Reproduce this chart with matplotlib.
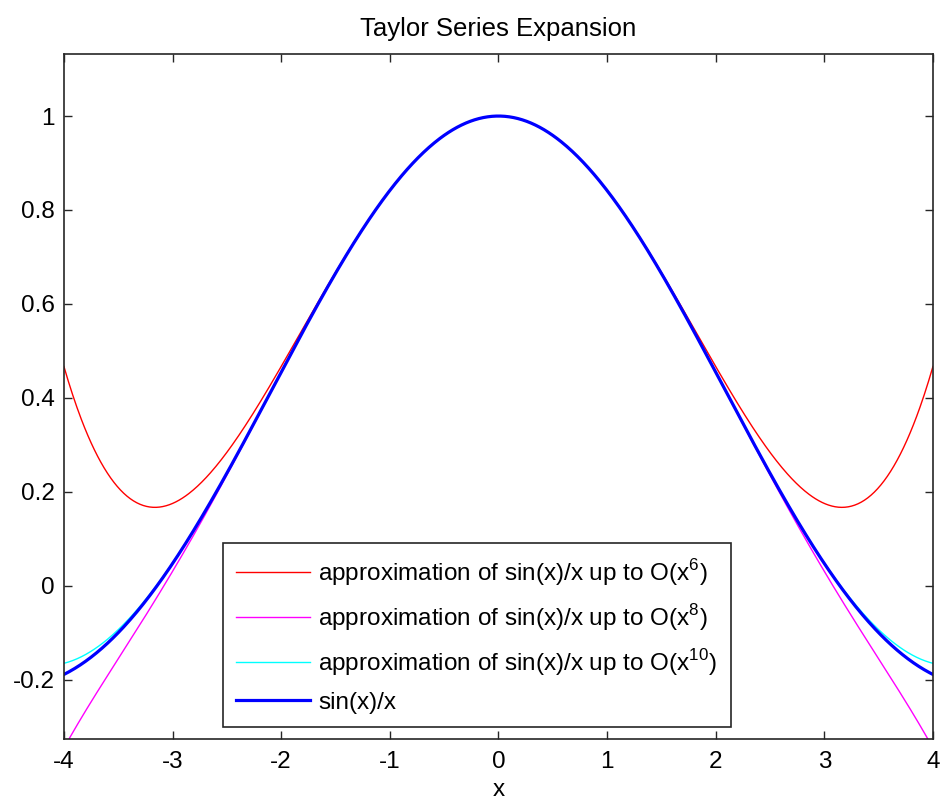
import numpy as np
import matplotlib
matplotlib.use("Agg")
import matplotlib.pyplot as plt

plt.rcParams['font.family'] = ['Liberation Sans', 'DejaVu Sans']
plt.rcParams['mathtext.fontset'] = 'custom'
plt.rcParams['mathtext.rm'] = 'Liberation Sans'

# Taylor coefficients of sin(x)/x for powers x^0, x^2, x^4, ...
taylor_coeffs = [1.0, -1/6, 1/120, -1/5040, 1/362880]
# number of terms kept for each approximation
orders = [3, 4, 5]
approx_labels = [
    r'approximation of sin(x)/x up to O(x$^{\mathrm{6}}$)',
    r'approximation of sin(x)/x up to O(x$^{\mathrm{8}}$)',
    r'approximation of sin(x)/x up to O(x$^{\mathrm{10}}$)',
]
approx_colors = ['#ff0000', '#ff00ff', '#00ffff']
exact_label = 'sin(x)/x'
x_ticks = [-4, -3, -2, -1, 0, 1, 2, 3, 4]
y_ticks = [-0.2, 0, 0.2, 0.4, 0.6, 0.8, 1]

x = np.linspace(-4, 4, 801)

fig = plt.figure(figsize=(9.4, 8.06), dpi=100)
ax = fig.add_axes([0.068, 0.0835, 0.9245, 0.85])

for n, lab, col in zip(orders, approx_labels, approx_colors):
    y = sum(c * x ** (2 * k) for k, c in enumerate(taylor_coeffs[:n]))
    ax.plot(x, y, color=col, lw=1.0, label=lab)

ax.plot(x, np.sinc(x / np.pi), color='#0000ff', lw=2.3, label=exact_label)

ax.set_xlim(-4, 4)
ax.set_ylim(-0.326, 1.133)
ax.set_xticks(x_ticks)
ax.set_xticklabels([str(t) for t in x_ticks])
ax.set_yticks(y_ticks)
ax.set_yticklabels(['-0.2', '0', '0.2', '0.4', '0.6', '0.8', '1'])
ax.tick_params(direction='in', length=6, width=1, top=True, right=True,
               labelsize=17.5, colors='#262626', labelcolor='black')
ax.tick_params(axis='y', pad=6.5)
ax.tick_params(axis='x', pad=9)
for s in ax.spines.values():
    s.set_linewidth(1.2)
    s.set_color('#262626')

ax.set_title('Taylor Series Expansion', fontsize=18.5, pad=13)
ax.set_xlabel('x', fontsize=17.5, labelpad=4.5)

leg = ax.legend(loc='lower left', bbox_to_anchor=(0.183, 0.017),
                fontsize=17.5, handlelength=3.05, fancybox=False,
                edgecolor='#262626', framealpha=1, borderpad=0.55,
                labelspacing=0.58, handletextpad=0.33, borderaxespad=0)
leg.get_frame().set_linewidth(1.2)

fig.savefig('out.png', dpi=100)
